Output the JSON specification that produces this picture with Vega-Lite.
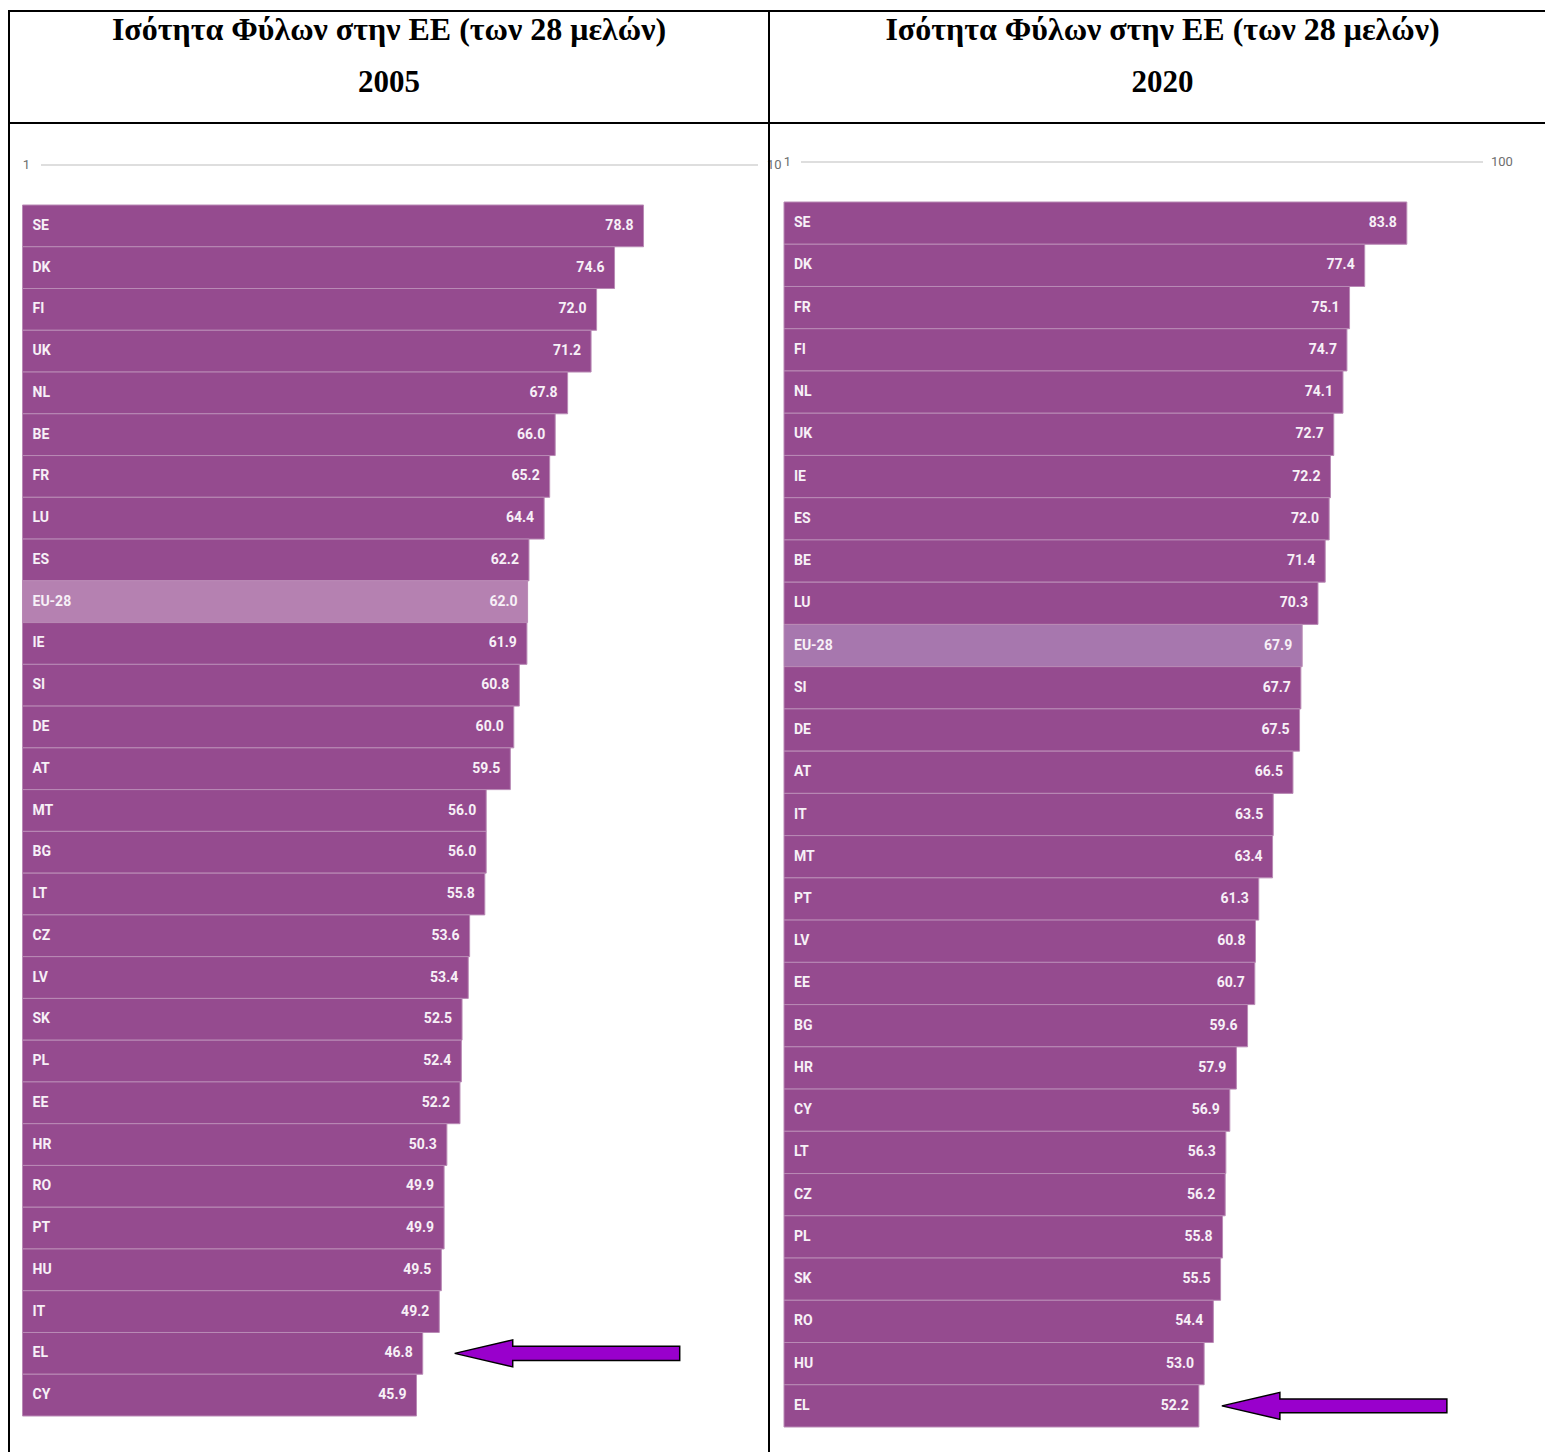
{
  "$schema": "https://vega.github.io/schema/vega-lite/v6.json",
  "padding": {"left": 8, "top": 10, "right": 0, "bottom": 0},
  "background": "white",
  "config": {"view": {"stroke": "black", "strokeWidth": 2}},
  "datasets": {
    "titles": [
      {"panel": "2005", "title": "Ισότητα Φύλων στην ΕΕ (των 28 μελών)", "year": "2005"},
      {"panel": "2020", "title": "Ισότητα Φύλων στην ΕΕ (των 28 μελών)", "year": "2020"}
    ],
    "ends": [{"end": "1", "v": 1}, {"end": "100", "v": 100}],
    "v2005": [
      {"code": "SE", "value": 78.8}, {"code": "DK", "value": 74.6}, {"code": "FI", "value": 72.0},
      {"code": "UK", "value": 71.2}, {"code": "NL", "value": 67.8}, {"code": "BE", "value": 66.0},
      {"code": "FR", "value": 65.2}, {"code": "LU", "value": 64.4}, {"code": "ES", "value": 62.2},
      {"code": "EU-28", "value": 62.0}, {"code": "IE", "value": 61.9}, {"code": "SI", "value": 60.8},
      {"code": "DE", "value": 60.0}, {"code": "AT", "value": 59.5}, {"code": "MT", "value": 56.0},
      {"code": "BG", "value": 56.0}, {"code": "LT", "value": 55.8}, {"code": "CZ", "value": 53.6},
      {"code": "LV", "value": 53.4}, {"code": "SK", "value": 52.5}, {"code": "PL", "value": 52.4},
      {"code": "EE", "value": 52.2}, {"code": "HR", "value": 50.3}, {"code": "RO", "value": 49.9},
      {"code": "PT", "value": 49.9}, {"code": "HU", "value": 49.5}, {"code": "IT", "value": 49.2},
      {"code": "EL", "value": 46.8}, {"code": "CY", "value": 45.9}
    ],
    "v2020": [
      {"code": "SE", "value": 83.8}, {"code": "DK", "value": 77.4}, {"code": "FR", "value": 75.1},
      {"code": "FI", "value": 74.7}, {"code": "NL", "value": 74.1}, {"code": "UK", "value": 72.7},
      {"code": "IE", "value": 72.2}, {"code": "ES", "value": 72.0}, {"code": "BE", "value": 71.4},
      {"code": "LU", "value": 70.3}, {"code": "EU-28", "value": 67.9}, {"code": "SI", "value": 67.7},
      {"code": "DE", "value": 67.5}, {"code": "AT", "value": 66.5}, {"code": "IT", "value": 63.5},
      {"code": "MT", "value": 63.4}, {"code": "PT", "value": 61.3}, {"code": "LV", "value": 60.8},
      {"code": "EE", "value": 60.7}, {"code": "BG", "value": 59.6}, {"code": "HR", "value": 57.9},
      {"code": "CY", "value": 56.9}, {"code": "LT", "value": 56.3}, {"code": "CZ", "value": 56.2},
      {"code": "PL", "value": 55.8}, {"code": "SK", "value": 55.5}, {"code": "RO", "value": 54.4},
      {"code": "HU", "value": 53.0}, {"code": "EL", "value": 52.2}
    ]
  },
  "columns": 2,
  "spacing": 0,
  "bounds": "flush",
  "concat": [
    {
      "width": 760, "height": 112,
      "data": {"name": "titles"},
      "transform": [{"filter": "datum.panel === '2005'"}],
      "layer": [
        {"mark": {"type": "text", "font": "Liberation Serif", "fontWeight": "bold", "fontSize": 32, "color": "black", "align": "center", "baseline": "alphabetic"},
         "encoding": {"text": {"field": "title"}, "x": {"value": 380}, "y": {"value": 29}}},
        {"mark": {"type": "text", "font": "Liberation Serif", "fontWeight": "bold", "fontSize": 31, "color": "black", "align": "center", "baseline": "alphabetic"},
         "encoding": {"text": {"field": "year"}, "x": {"value": 380}, "y": {"value": 81}}}
      ]
    },
    {
      "width": 787, "height": 112,
      "data": {"name": "titles"},
      "transform": [{"filter": "datum.panel === '2020'"}],
      "layer": [
        {"mark": {"type": "text", "font": "Liberation Serif", "fontWeight": "bold", "fontSize": 32, "color": "black", "align": "center", "baseline": "alphabetic"},
         "encoding": {"text": {"field": "title"}, "x": {"value": 393.5}, "y": {"value": 29}}},
        {"mark": {"type": "text", "font": "Liberation Serif", "fontWeight": "bold", "fontSize": 31, "color": "black", "align": "center", "baseline": "alphabetic"},
         "encoding": {"text": {"field": "year"}, "x": {"value": 393.5}, "y": {"value": 81}}}
      ]
    },
    {
      "width": 760, "height": 1335,
      "resolve": {"scale": {"x": "independent"}},
      "layer": [
        {
          "data": {"name": "v2005"},
          "layer": [
            {"mark": {"type": "bar", "stroke": "#b98ab5", "strokeWidth": 1},
             "encoding": {
               "y": {"field": "code", "type": "nominal", "sort": null, "axis": null, "scale": {"range": [82, 1293], "paddingInner": 0, "paddingOuter": 0}},
               "x": {"field": "value", "type": "quantitative", "axis": null, "scale": {"domain": [-11.2, 100], "range": [13.5, 780.8], "zero": false, "nice": false}},
               "x2": {"datum": -11.2},
               "color": {"condition": {"test": "datum.code === 'EU-28'", "value": "#b581b1"}, "value": "#954b8f"}
             }},
            {"mark": {"type": "text", "align": "left", "baseline": "middle", "dx": 10, "font": "Roboto", "fontWeight": "bold", "fontSize": 14, "color": "#f7f0f7"},
             "encoding": {
               "y": {"field": "code", "type": "nominal", "sort": null, "axis": null},
               "x": {"datum": -11.2},
               "text": {"field": "code"}
             }},
            {"mark": {"type": "text", "align": "right", "baseline": "middle", "dx": -10, "font": "Roboto", "fontWeight": "bold", "fontSize": 14, "color": "#f7f0f7"},
             "encoding": {
               "y": {"field": "code", "type": "nominal", "sort": null, "axis": null},
               "x": {"field": "value", "type": "quantitative"},
               "text": {"field": "value", "type": "quantitative", "format": ".1f"}
             }},
            {"transform": [{"filter": "datum.code === 'EL'"}],
             "mark": {"type": "point", "shape": "M0.32,0 L0.9,-0.135 L0.9,-0.072 L2.57,-0.072 L2.57,0.072 L0.9,0.072 L0.9,0.135 Z", "size": 40000, "filled": true, "fill": "#9900cc", "stroke": "black", "strokeWidth": 1.5, "opacity": 1},
             "encoding": {
               "y": {"field": "code", "type": "nominal", "sort": null, "axis": null},
               "x": {"field": "value", "type": "quantitative"}
             }}
          ]
        },
        {
          "data": {"name": "ends"},
          "layer": [
            {"mark": {"type": "rule", "color": "#d3d3d3", "strokeWidth": 1.5},
             "encoding": {
               "x": {"aggregate": "min", "field": "v", "type": "quantitative", "axis": null, "scale": {"domain": [1, 100], "range": [32, 749], "nice": false, "zero": false}},
               "x2": {"aggregate": "max", "field": "v"},
               "y": {"value": 42}
             }},
            {"transform": [{"filter": "datum.v === 1"}],
             "mark": {"type": "text", "align": "right", "baseline": "middle", "dx": -11, "font": "Roboto", "fontSize": 13, "color": "#6e6e6e"},
             "encoding": {"x": {"field": "v", "type": "quantitative"}, "y": {"value": 42}, "text": {"field": "end"}}},
            {"transform": [{"filter": "datum.v === 100"}],
             "mark": {"type": "text", "align": "left", "baseline": "middle", "dx": 9, "font": "Roboto", "fontSize": 13, "color": "#6e6e6e", "limit": 17, "ellipsis": "\u200b"},
             "encoding": {"x": {"field": "v", "type": "quantitative"}, "y": {"value": 42}, "text": {"field": "end"}}}
          ]
        }
      ]
    },
    {
      "width": 787, "height": 1335,
      "resolve": {"scale": {"x": "independent"}},
      "layer": [
        {
          "data": {"name": "v2020"},
          "layer": [
            {"mark": {"type": "bar", "stroke": "#b98ab5", "strokeWidth": 1},
             "encoding": {
               "y": {"field": "code", "type": "nominal", "sort": null, "axis": null, "scale": {"range": [79, 1304], "paddingInner": 0, "paddingOuter": 0}},
               "x": {"field": "value", "type": "quantitative", "axis": null, "scale": {"domain": [-10.85, 100], "range": [15, 744.4], "zero": false, "nice": false}},
               "x2": {"datum": -10.85},
               "color": {"condition": {"test": "datum.code === 'EU-28'", "value": "#a777ae"}, "value": "#954b8f"}
             }},
            {"mark": {"type": "text", "align": "left", "baseline": "middle", "dx": 10, "font": "Roboto", "fontWeight": "bold", "fontSize": 14, "color": "#f7f0f7"},
             "encoding": {
               "y": {"field": "code", "type": "nominal", "sort": null, "axis": null},
               "x": {"datum": -10.85},
               "text": {"field": "code"}
             }},
            {"mark": {"type": "text", "align": "right", "baseline": "middle", "dx": -10, "font": "Roboto", "fontWeight": "bold", "fontSize": 14, "color": "#f7f0f7"},
             "encoding": {
               "y": {"field": "code", "type": "nominal", "sort": null, "axis": null},
               "x": {"field": "value", "type": "quantitative"},
               "text": {"field": "value", "type": "quantitative", "format": ".1f"}
             }},
            {"transform": [{"filter": "datum.code === 'EL'"}],
             "mark": {"type": "point", "shape": "M0.23,0 L0.81,-0.135 L0.81,-0.068 L2.48,-0.068 L2.48,0.068 L0.81,0.068 L0.81,0.135 Z", "size": 40000, "filled": true, "fill": "#9900cc", "stroke": "black", "strokeWidth": 1.5, "opacity": 1},
             "encoding": {
               "y": {"field": "code", "type": "nominal", "sort": null, "axis": null},
               "x": {"field": "value", "type": "quantitative"}
             }}
          ]
        },
        {
          "data": {"name": "ends"},
          "layer": [
            {"mark": {"type": "rule", "color": "#d3d3d3", "strokeWidth": 1.5},
             "encoding": {
               "x": {"aggregate": "min", "field": "v", "type": "quantitative", "axis": null, "scale": {"domain": [1, 100], "range": [32, 714], "nice": false, "zero": false}},
               "x2": {"aggregate": "max", "field": "v"},
               "y": {"value": 39}
             }},
            {"transform": [{"filter": "datum.v === 1"}],
             "mark": {"type": "text", "align": "right", "baseline": "middle", "dx": -10, "font": "Roboto", "fontSize": 13, "color": "#6e6e6e"},
             "encoding": {"x": {"field": "v", "type": "quantitative"}, "y": {"value": 39}, "text": {"field": "end"}}},
            {"transform": [{"filter": "datum.v === 100"}],
             "mark": {"type": "text", "align": "left", "baseline": "middle", "dx": 8, "font": "Roboto", "fontSize": 13, "color": "#6e6e6e"},
             "encoding": {"x": {"field": "v", "type": "quantitative"}, "y": {"value": 39}, "text": {"field": "end"}}}
          ]
        }
      ]
    }
  ]
}
